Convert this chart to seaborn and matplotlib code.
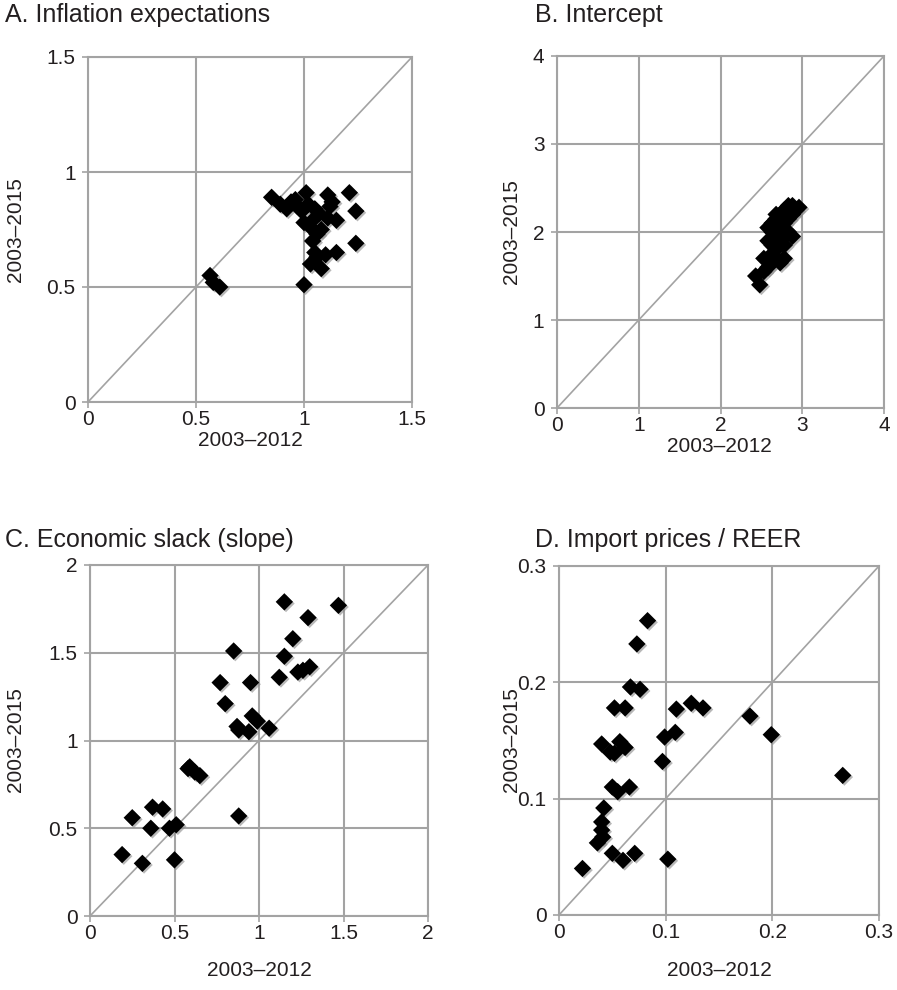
import matplotlib
matplotlib.use("Agg")
import matplotlib.pyplot as plt
import matplotlib.transforms as mtrans
import seaborn as sns
import pandas as pd
from matplotlib.ticker import FuncFormatter

# Panel A: inflation expectations coefficients
a_x = [0.565, 0.58, 0.61, 0.85, 0.89, 0.92, 0.94, 0.96, 0.97, 0.99, 1.01, 1.02,
       1.00, 1.03, 1.04, 1.06, 1.04, 1.05, 1.03, 1.06, 1.08, 1.10, 1.15, 1.00,
       1.05, 1.07, 1.11, 1.11, 1.12, 1.13, 1.15, 1.21, 1.24, 1.24, 1.08]
a_y = [0.55, 0.52, 0.50, 0.89, 0.86, 0.84, 0.87, 0.88, 0.85, 0.83, 0.91, 0.86,
       0.78, 0.76, 0.79, 0.73, 0.70, 0.65, 0.60, 0.63, 0.58, 0.64, 0.65, 0.51,
       0.84, 0.82, 0.80, 0.90, 0.85, 0.87, 0.79, 0.91, 0.83, 0.69, 0.75]

# Panel B: intercept
b_x = [2.43, 2.48, 2.53, 2.58, 2.63, 2.68, 2.73, 2.78, 2.58, 2.63, 2.68, 2.63,
       2.68, 2.73, 2.78, 2.83, 2.88, 2.96, 2.78, 2.83, 2.88, 2.73, 2.68, 2.78,
       2.88, 2.58, 2.73, 2.83, 2.63, 2.53, 2.68, 2.78, 2.92, 2.73, 2.63]
b_y = [1.50, 1.40, 1.55, 1.60, 1.65, 1.70, 1.65, 1.70, 1.90, 1.85, 2.00, 2.10,
       2.15, 2.20, 2.25, 2.30, 2.30, 2.28, 2.10, 2.00, 1.95, 1.95, 1.80, 1.85,
       2.20, 2.05, 2.05, 2.15, 1.75, 1.70, 2.20, 1.95, 2.25, 1.90, 2.00]

# Panel C: economic slack (slope)
c_x = [0.19, 0.25, 0.31, 0.36, 0.37, 0.43, 0.47, 0.51, 0.50, 0.58, 0.59, 0.62,
       0.65, 0.77, 0.80, 0.85, 0.87, 0.88, 0.88, 0.94, 0.95, 0.96, 0.99, 1.06,
       1.12, 1.15, 1.15, 1.20, 1.23, 1.26, 1.29, 1.30, 1.47]
c_y = [0.35, 0.56, 0.30, 0.50, 0.62, 0.61, 0.50, 0.52, 0.32, 0.84, 0.85, 0.82,
       0.80, 1.33, 1.21, 1.51, 1.08, 1.06, 0.57, 1.05, 1.33, 1.14, 1.11, 1.07,
       1.36, 1.48, 1.79, 1.58, 1.39, 1.40, 1.70, 1.42, 1.77]

# Panel D: import prices / REER
d_x = [0.083, 0.073, 0.067, 0.076, 0.052, 0.062, 0.110, 0.124, 0.135, 0.099,
       0.109, 0.097, 0.040, 0.048, 0.057, 0.062, 0.052, 0.050, 0.055, 0.066,
       0.042, 0.040, 0.040, 0.041, 0.036, 0.050, 0.060, 0.071, 0.102, 0.022,
       0.179, 0.199, 0.266]
d_y = [0.253, 0.233, 0.196, 0.194, 0.178, 0.178, 0.177, 0.182, 0.178, 0.153,
       0.157, 0.132, 0.147, 0.140, 0.149, 0.144, 0.139, 0.110, 0.106, 0.110,
       0.092, 0.080, 0.073, 0.067, 0.062, 0.053, 0.047, 0.053, 0.048, 0.040,
       0.171, 0.155, 0.120]

titles = ["A. Inflation expectations", "B. Intercept",
          "C. Economic slack (slope)", "D. Import prices / REER"]
ticks = [[0, 0.5, 1, 1.5], [0, 1, 2, 3, 4], [0, 0.5, 1, 1.5, 2], [0, 0.1, 0.2, 0.3]]
x_label = "2003\u20132012"
y_label = "2003\u20132015"

sns.set_theme(style="white")
plt.rcParams["font.family"] = ["Liberation Sans", "DejaVu Sans"]
TEXT = "#231f20"
GRID = "#a3a3a3"

W, H = 897, 990
fig = plt.figure(figsize=(W / 100, H / 100), dpi=100)

# axes boxes in pixels: left, right, top, bottom
boxes = [(88, 412, 57, 402), (557, 884, 56, 408), (90, 428, 565, 916), (559, 879, 566, 915)]
datasets = [(a_x, a_y), (b_x, b_y), (c_x, c_y), (d_x, d_y)]
title_pos = [(5, 15), (535, 15), (5, 540), (535, 540)]
ylab_pos = [(15, 230), (511, 232), (15, 740), (511, 740)]
xlab_pos = [(250, 441), (719, 446), (259, 970), (719, 970)]

fmt = FuncFormatter(lambda v, p: f"{v:g}")

for i in range(4):
    l, r, t, b = boxes[i]
    ax = fig.add_axes([l / W, 1 - b / H, (r - l) / W, (b - t) / H])
    xs, ys = datasets[i]
    tk = ticks[i]
    lim = tk[-1]
    ax.plot([0, lim], [0, lim], color=GRID, lw=1.2, zorder=2)
    df = pd.DataFrame({"x": xs, "y": ys})
    # soft drop shadow under the markers
    sns.scatterplot(data=df, x="x", y="y", ax=ax, marker="D", s=78,
                    color="#8a8a8a", edgecolor="none", zorder=3, legend=False,
                    alpha=0.6)
    shadow = ax.collections[-1]
    shadow.set_transform(shadow.get_transform() + mtrans.ScaledTranslation(
        1.2 / 72, -1.2 / 72, fig.dpi_scale_trans))
    sns.scatterplot(data=df, x="x", y="y", ax=ax, marker="D", s=78,
                    color="black", edgecolor="none", zorder=4, legend=False)
    ax.set_xlim(0, lim)
    ax.set_ylim(0, lim)
    ax.set_xticks(tk)
    ax.set_yticks(tk)
    ax.xaxis.set_major_formatter(fmt)
    ax.yaxis.set_major_formatter(fmt)
    ax.grid(True, color=GRID, lw=1.5, zorder=1)
    ax.set_axisbelow(True)
    for s in ax.spines.values():
        s.set_color(GRID)
        s.set_linewidth(1.5)
        s.set_visible(True)
    ax.tick_params(axis="x", which="major", direction="out", length=4,
                   width=1.2, color=GRID, labelsize=15, labelcolor=TEXT, pad=2,
                   bottom=True)
    ax.tick_params(axis="y", which="major", direction="out", length=4,
                   width=1.2, color=GRID, labelsize=15, labelcolor=TEXT, pad=5,
                   left=True)
    ax.set_xlabel("")
    ax.set_ylabel("")
    tx, ty = title_pos[i]
    fig.text(tx / W, 1 - ty / H, titles[i], fontsize=18, color=TEXT,
             ha="left", va="center")
    yx, yy = ylab_pos[i]
    fig.text(yx / W, 1 - yy / H, y_label, fontsize=15, color=TEXT,
             rotation=90, ha="center", va="center")
    xx, xy = xlab_pos[i]
    fig.text(xx / W, 1 - xy / H, x_label, fontsize=15, color=TEXT,
             ha="center", va="center")

fig.savefig("out.png", dpi=100)
